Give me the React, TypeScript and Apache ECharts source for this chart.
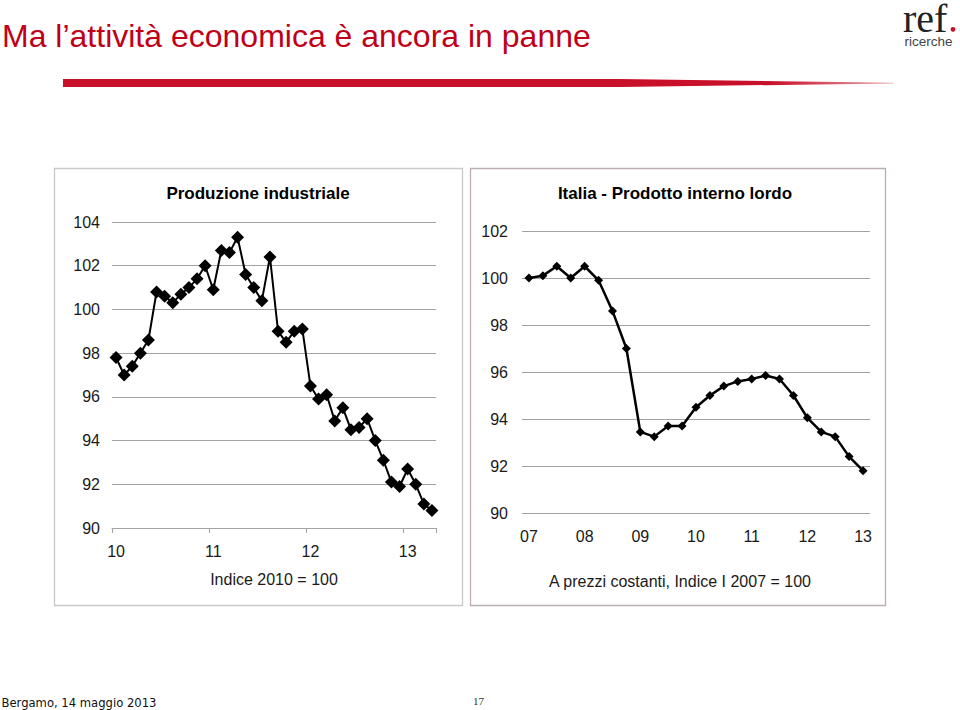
import React, { useEffect, useRef } from "react";
import * as echarts from "echarts";

const pageTitle = "Ma l’attività economica è ancora in panne";
const footerText = "Bergamo, 14 maggio 2013";
const pageNumber = "17";

const prodTitle = "Produzione industriale";
const prodSubtitle = "Indice 2010 = 100";
const prodCategories = [
  "2010-01", "2010-02", "2010-03", "2010-04", "2010-05", "2010-06", "2010-07", "2010-08", "2010-09", "2010-10", "2010-11", "2010-12",
  "2011-01", "2011-02", "2011-03", "2011-04", "2011-05", "2011-06", "2011-07", "2011-08", "2011-09", "2011-10", "2011-11", "2011-12",
  "2012-01", "2012-02", "2012-03", "2012-04", "2012-05", "2012-06", "2012-07", "2012-08", "2012-09", "2012-10", "2012-11", "2012-12",
  "2013-01", "2013-02", "2013-03", "2013-04",
];
const prodValues = [
  97.8, 97.0, 97.4, 98.0, 98.6, 100.8, 100.6, 100.3, 100.7, 101.0, 101.4, 102.0,
  100.9, 102.7, 102.6, 103.3, 101.6, 101.0, 100.4, 102.4, 99.0, 98.5, 99.0, 99.1,
  96.5, 95.9, 96.1, 94.9, 95.5, 94.5, 94.6, 95.0, 94.0, 93.1, 92.1, 91.9,
  92.7, 92.0, 91.1, 90.8,
];
const prodYMin = 90;
const prodYMax = 104;

const gdpTitle = "Italia - Prodotto interno lordo";
const gdpSubtitle = "A prezzi costanti, Indice I 2007 = 100";
const gdpCategories = [
  "2007-Q1", "2007-Q2", "2007-Q3", "2007-Q4",
  "2008-Q1", "2008-Q2", "2008-Q3", "2008-Q4",
  "2009-Q1", "2009-Q2", "2009-Q3", "2009-Q4",
  "2010-Q1", "2010-Q2", "2010-Q3", "2010-Q4",
  "2011-Q1", "2011-Q2", "2011-Q3", "2011-Q4",
  "2012-Q1", "2012-Q2", "2012-Q3", "2012-Q4",
  "2013-Q1",
];
const gdpValues = [
  100.0, 100.1, 100.5, 100.0, 100.5, 99.9, 98.6, 97.0, 93.45, 93.25, 93.7, 93.7,
  94.5, 95.0, 95.4, 95.6, 95.7, 95.85, 95.7, 95.0, 94.05, 93.45, 93.25, 92.4, 91.8,
];
const gdpYMin = 90;
const gdpYMax = 102;

const FONT = "Liberation Sans, Arial, sans-serif";
const SERIF = "Liberation Serif, Times New Roman, serif";
const GRID_COLOR = "#a3a3a3";
const LABEL_COLOR = "#1a1a1a";
const RED = "#c00018";

export default function App() {
  const ref = useRef<HTMLDivElement>(null);

  useEffect(() => {
    if (!ref.current) return;
    const chart = echarts.init(ref.current, undefined, { renderer: "svg" });
    const yearLabel = (v: string) => v.slice(2, 4);

    chart.setOption({
      animation: false,
      backgroundColor: "#ffffff",
      grid: [
        { left: 112, top: 222, width: 324, height: 306 },
        { left: 522, top: 231, width: 348, height: 282 },
      ],
      xAxis: [
        {
          type: "category",
          gridIndex: 0,
          data: prodCategories,
          boundaryGap: true,
          axisLine: { show: true, lineStyle: { color: GRID_COLOR, width: 1 } },
          axisTick: { show: true, interval: 11, length: 5, lineStyle: { color: GRID_COLOR } },
          axisLabel: {
            interval: 11,
            formatter: yearLabel,
            fontSize: 16,
            fontFamily: FONT,
            color: LABEL_COLOR,
            margin: 15,
          },
          splitLine: { show: false },
        },
        {
          type: "category",
          gridIndex: 1,
          data: gdpCategories,
          boundaryGap: true,
          axisLine: { show: false },
          axisTick: { show: false },
          axisLabel: {
            interval: 3,
            formatter: yearLabel,
            fontSize: 16,
            fontFamily: FONT,
            color: LABEL_COLOR,
            margin: 15,
          },
          splitLine: { show: false },
        },
      ],
      yAxis: [
        {
          type: "value",
          gridIndex: 0,
          min: prodYMin,
          max: prodYMax,
          interval: 2,
          axisLine: { show: false },
          axisTick: { show: false },
          axisLabel: { fontSize: 16, fontFamily: FONT, color: LABEL_COLOR, margin: 12 },
          splitLine: { show: true, lineStyle: { color: GRID_COLOR, width: 1 } },
        },
        {
          type: "value",
          gridIndex: 1,
          min: gdpYMin,
          max: gdpYMax,
          interval: 2,
          axisLine: { show: false },
          axisTick: { show: false },
          axisLabel: { fontSize: 16, fontFamily: FONT, color: LABEL_COLOR, margin: 14 },
          splitLine: { show: true, lineStyle: { color: GRID_COLOR, width: 1 } },
        },
      ],
      series: [
        {
          type: "line",
          xAxisIndex: 0,
          yAxisIndex: 0,
          data: prodValues,
          symbol: "diamond",
          symbolSize: 13,
          showAllSymbol: true,
          lineStyle: { color: "#000", width: 2 },
          itemStyle: { color: "#000" },
        },
        {
          type: "line",
          xAxisIndex: 1,
          yAxisIndex: 1,
          data: gdpValues,
          symbol: "diamond",
          symbolSize: 9,
          showAllSymbol: true,
          lineStyle: { color: "#000", width: 2.5 },
          itemStyle: { color: "#000" },
        },
      ],
      graphic: [
        // page title
        {
          type: "text",
          x: 2,
          y: 36,
          style: { text: pageTitle, fontSize: 32, fontFamily: FONT, fill: RED, verticalAlign: "middle" },
        },
        // red tapered bar
        {
          type: "polygon",
          shape: { points: [[63, 79], [620, 79], [893, 82.8], [893, 83.4], [620, 87], [63, 87]] },
          style: {
            fill: new echarts.graphic.LinearGradient(0, 0, 1, 0, [
              { offset: 0, color: "#c8102a" },
              { offset: 0.85, color: "#c8102a" },
              { offset: 1, color: "#e8a0a8" },
            ]),
          },
        },
        // logo
        {
          type: "text",
          x: 903,
          y: 2,
          style: {
            text: "{a|ref}\n{b|ricerche}",
            verticalAlign: "top",
            rich: {
              a: { fontSize: 40, lineHeight: 33, fontFamily: SERIF, fill: "#222" },
              b: { fontSize: 13.5, lineHeight: 12, fontFamily: FONT, fill: "#444", padding: [0, 0, 0, 1.5] },
            },
          },
        },
        { type: "circle", shape: { cx: 953, cy: 29.3, r: 2.4 }, style: { fill: "#c8102a" } },
        // frames
        {
          type: "rect",
          shape: { x: 54.5, y: 168.5, width: 408, height: 437 },
          style: { fill: "none", stroke: "#c9c9c9", lineWidth: 1.3 },
        },
        {
          type: "rect",
          shape: { x: 470.5, y: 168.5, width: 415, height: 437 },
          style: { fill: "none", stroke: "#bcaeae", lineWidth: 1.3 },
        },
        // chart titles
        {
          type: "text",
          x: 258,
          y: 193,
          style: { text: prodTitle, fontSize: 17, fontWeight: "bold", fontFamily: FONT, fill: "#000", align: "center", verticalAlign: "middle" },
        },
        {
          type: "text",
          x: 675,
          y: 193,
          style: { text: gdpTitle, fontSize: 17, fontWeight: "bold", fontFamily: FONT, fill: "#000", align: "center", verticalAlign: "middle" },
        },
        // subtitles
        {
          type: "text",
          x: 274,
          y: 579,
          style: { text: prodSubtitle, fontSize: 16, fontFamily: FONT, fill: LABEL_COLOR, align: "center", verticalAlign: "middle" },
        },
        {
          type: "text",
          x: 680,
          y: 581.5,
          style: { text: gdpSubtitle, fontSize: 16, fontFamily: FONT, fill: LABEL_COLOR, align: "center", verticalAlign: "middle" },
        },
        // footer
        {
          type: "text",
          x: 1.5,
          y: 703,
          style: { text: footerText, fontSize: 11.6, fontFamily: "DejaVu Sans, Verdana, sans-serif", fill: "#111", verticalAlign: "middle" },
        },
        {
          type: "text",
          x: 473,
          y: 701,
          style: { text: pageNumber, fontSize: 11, fontFamily: SERIF, fill: "#333", verticalAlign: "middle" },
        },
      ],
    });

    return () => chart.dispose();
  }, []);

  return (
    <div
      ref={ref}
      style={{ position: "absolute", left: 0, top: 0, width: 960, height: 710, background: "#fff" }}
    />
  );
}
